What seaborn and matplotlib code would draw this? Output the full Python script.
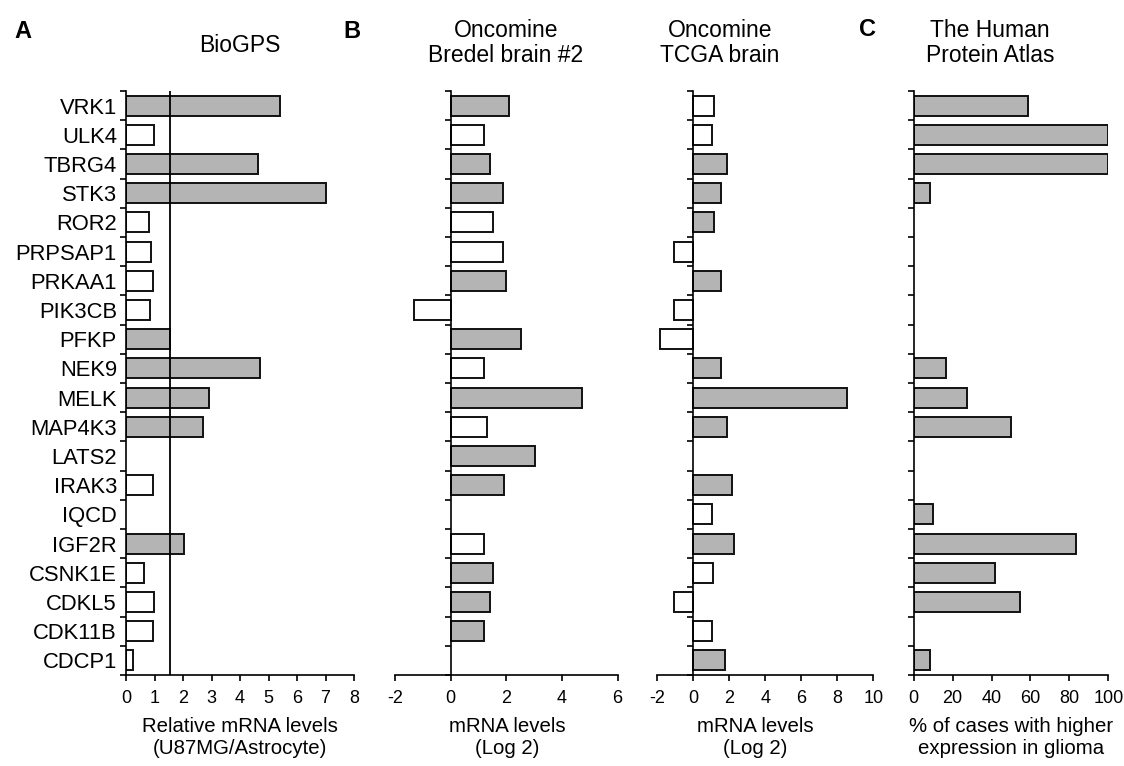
import numpy as np
import pandas as pd
import matplotlib
matplotlib.use("Agg")
import matplotlib.pyplot as plt
import seaborn as sns

sns.set_theme(style="white")
plt.rcParams['font.family'] = ['Liberation Sans', 'DejaVu Sans']
plt.rcParams['text.color'] = 'black'
plt.rcParams['xtick.color'] = 'black'
plt.rcParams['ytick.color'] = 'black'

genes = ["VRK1", "ULK4", "TBRG4", "STK3", "ROR2", "PRPSAP1", "PRKAA1", "PIK3CB",
         "PFKP", "NEK9", "MELK", "MAP4K3", "LATS2", "IRAK3", "IQCD", "IGF2R",
         "CSNK1E", "CDKL5", "CDK11B", "CDCP1"]

nan = np.nan
biogps = [5.42, 0.97, 4.62, 7.0, 0.81, 0.87, 0.94, 0.84, 1.54, 4.7, 2.92, 2.69,
          nan, 0.96, nan, 2.02, 0.63, 0.98, 0.94, 0.26]
biogps_hi = [1, 0, 1, 1, 0, 0, 0, 0, 1, 1, 1, 1, 0, 0, 0, 1, 0, 0, 0, 0]
biogps_cut = 1.54

bredel = [2.11, 1.2, 1.4, 1.9, 1.53, 1.9, 2.0, -1.32, 2.52, 1.2, 4.71, 1.32,
          3.02, 1.92, nan, 1.2, 1.52, 1.4, 1.21, nan]
bredel_hi = [1, 0, 1, 1, 0, 0, 1, 0, 1, 0, 1, 0, 1, 1, 0, 0, 1, 1, 1, 0]

tcga = [1.15, 1.02, 1.85, 1.54, 1.15, -1.07, 1.54, -1.07, -1.85, 1.54, 8.52, 1.85,
        nan, 2.15, 1.02, 2.24, 1.07, -1.07, 1.02, 1.74]
tcga_hi = [0, 0, 1, 1, 1, 0, 1, 0, 0, 1, 1, 1, 0, 1, 0, 1, 0, 0, 0, 1]

hpa = [58.6, 100, 100, 8.2, nan, nan, nan, nan, nan, 16.6, 27.4, 50.2,
       nan, nan, 10.1, 83.4, 42.0, 54.8, nan, 8.2]
hpa_hi = [1] * 20

W, H = 1124, 766
fig = plt.figure(figsize=(W / 100, H / 100), dpi=100)

GRAY = "#b4b4b4"
pal = {"hi": GRAY, "lo": "white"}
FS_GENE = 15.8
FS_TICK = 13
FS_TITLE = 16.5
FS_XLAB = 14.7

bottom_px, top_px = 675, 91


def make_ax(x0, x1):
    return fig.add_axes([x0 / W, (H - bottom_px) / H, (x1 - x0) / W, (bottom_px - top_px) / H])


def panel(ax, vals, hi, xlim, xticks, show_labels):
    df = pd.DataFrame({"gene": genes, "val": vals,
                       "grp": ["hi" if h else "lo" for h in hi]})
    sns.barplot(data=df, x="val", y="gene", hue="grp", order=genes,
                hue_order=["hi", "lo"], palette=pal, dodge=False, width=0.68,
                edgecolor="#111111", linewidth=1.4, errorbar=None, legend=False,
                orient="h", ax=ax)
    ax.set_xlim(*xlim)
    ax.set_ylim(len(genes) - 0.5, -0.5)
    ax.set_xticks(xticks)
    ax.set_xticklabels([str(t) for t in xticks], fontsize=FS_TICK)
    ax.set_xlabel("")
    ax.set_ylabel("")
    for s in ["top", "right"]:
        ax.spines[s].set_visible(False)
    ax.spines["left"].set_position(("data", 0))
    for s in ["left", "bottom"]:
        ax.spines[s].set_color("black")
        ax.spines[s].set_linewidth(1.2)
    ax.set_yticks(np.arange(len(genes)))
    if show_labels:
        ax.set_yticklabels(genes, fontsize=FS_GENE)
    else:
        ax.set_yticklabels([])
    ax.tick_params(axis="y", which="major", length=0, pad=6.5)
    ax.set_yticks(np.arange(-0.5, len(genes), 1.0), minor=True)
    ax.tick_params(axis="y", which="minor", length=4.5, width=1.2, color="black",
                   direction="out", left=True)
    ax.tick_params(axis="x", length=4, width=1.2, color="black", direction="out",
                   bottom=True, pad=7)
    ax.set_facecolor("white")


axA = make_ax(126, 354)
panel(axA, biogps, biogps_hi, (0, 8), list(range(0, 9)), True)
axA.axvline(biogps_cut, color="black", lw=1.3, zorder=5)

axB1 = make_ax(395, 617.5)
panel(axB1, bredel, bredel_hi, (-2, 6), [-2, 0, 2, 4, 6], False)

axB2 = make_ax(657.3, 873.3)
panel(axB2, tcga, tcga_hi, (-2, 10), [-2, 0, 2, 4, 6, 8, 10], False)

axC = make_ax(913.7, 1108.3)
panel(axC, hpa, hpa_hi, (0, 100), [0, 20, 40, 60, 80, 100], False)


def ftext(x, y, s, **kw):
    fig.text(x / W, 1 - y / H, s, **kw)


# panel letters
ftext(23, 31, "A", fontsize=17, fontweight="bold", va="center", ha="center")
ftext(352, 31, "B", fontsize=17, fontweight="bold", va="center", ha="center")
ftext(867, 30, "C", fontsize=17, fontweight="bold", va="center", ha="center")

# titles
ftext(240, 46, "BioGPS", fontsize=FS_TITLE, ha="center", va="center")
ftext(506, 43, "Oncomine\nBredel brain #2", fontsize=FS_TITLE, ha="center",
      va="center", linespacing=1.15)
ftext(720, 43, "Oncomine\nTCGA brain", fontsize=FS_TITLE, ha="center",
      va="center", linespacing=1.15)
ftext(990, 43, "The Human\nProtein Atlas", fontsize=FS_TITLE, ha="center",
      va="center", linespacing=1.15)

# x labels
ftext(240, 738, "Relative mRNA levels\n(U87MG/Astrocyte)", fontsize=FS_XLAB,
      ha="center", va="center", linespacing=1.2)
ftext(507, 738, "mRNA levels\n(Log 2)", fontsize=FS_XLAB, ha="center",
      va="center", linespacing=1.2)
ftext(755, 738, "mRNA levels\n(Log 2)", fontsize=FS_XLAB, ha="center",
      va="center", linespacing=1.2)
ftext(1011, 738, "% of cases with higher\nexpression in glioma", fontsize=FS_XLAB,
      ha="center", va="center", linespacing=1.2)

fig.savefig("out.png", dpi=100, facecolor="white")
